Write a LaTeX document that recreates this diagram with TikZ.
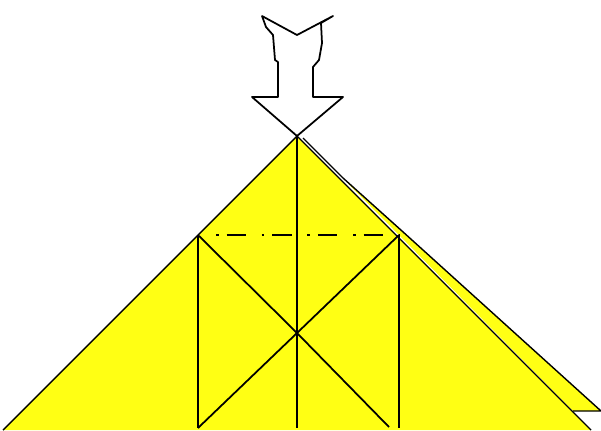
\documentclass[tikz,border=0pt]{standalone}
\usepackage{tikz}
\definecolor{paperyellow}{RGB}{255,255,20}

\begin{document}
\begin{tikzpicture}[
        x=0.02cm, y=-0.02cm,
        edge/.style={draw=black, line width=0.8pt, line join=round},
        crease/.style={draw=black, line width=1pt},
        hidden/.style={draw=black, line width=1pt, dash pattern=on 1.5pt off 4.5pt on 11pt off 9pt},
        paper/.style={fill=paperyellow}
    ]
        \useasboundingbox (0,0) rectangle (601,430);
        % Puntos principales del doblez
        \coordinate (apex) at (297,136);
        \coordinate (baseL) at (3,430);
        \coordinate (baseR) at (591,430);
        \coordinate (flapT) at (303,138);
        \coordinate (flapA) at (343,178);
        \coordinate (flapC) at (402,231);
        \coordinate (flapR) at (601,411);
        \coordinate (flapB) at (573,411);
        \coordinate (midL) at (198,235);
        \coordinate (midR) at (399,235);
        \coordinate (dashL) at (216,235);
        \coordinate (center) at (297,333);
        \coordinate (botL) at (198,428);
        \coordinate (botC) at (297,428);
        \coordinate (botD) at (389,427);
        \coordinate (botR) at (399,428);
        % Papel
        \fill[paper] (flapT) -- (flapA) -- (flapC) -- (flapR) -- (flapB) -- cycle;
        \fill[paper] (apex) -- (baseR) -- (baseL) -- cycle;
        \draw[edge] (flapT) -- (flapA) -- (flapC) -- (flapR) -- (flapB);
        \draw[edge] (baseL) -- (apex) -- (baseR);
        % Pliegues
        \draw[crease] (apex) -- (botC);
        \draw[crease] (midL) -- (botL);
        \draw[crease] (midR) -- (botR);
        \draw[crease] (midL) -- (center) -- (botD);
        \draw[crease] (midR) -- (center) -- (botL);
        \draw[hidden] (dashL) -- (midR);
        % Flecha
        \draw[edge, line width=1pt] (apex) -- (343,97) -- (313,97) -- (313,67) -- (319,60)
            -- (322,43) -- (321,23) -- (333,16) -- (297,35) -- (262,16) -- (266,27)
            -- (273,35) -- (275,60) -- (278,62) -- (278,97) -- (252,97) -- cycle;
    \end{tikzpicture}
\end{document}
